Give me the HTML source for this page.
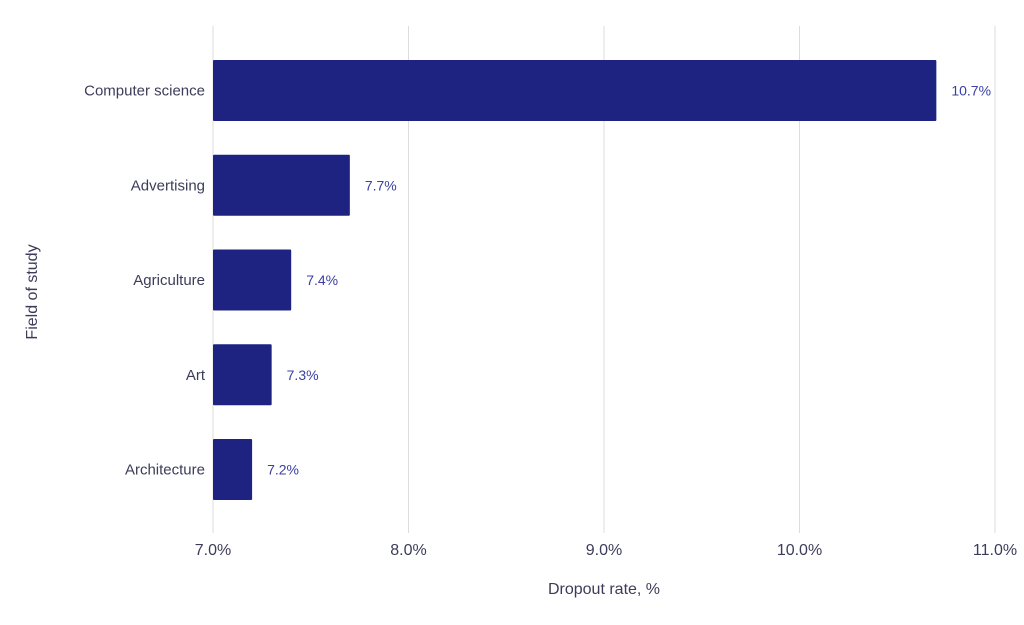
<!DOCTYPE html>
<html><head><meta charset="utf-8"><style>
body{margin:0;background:#fff;font-family:"Liberation Sans",sans-serif}
svg text{font-family:"Liberation Sans",sans-serif}
</style></head><body>
<svg id="chart" width="1024" height="620">
<g id="grid"></g><g id="bars"></g><g id="labels"></g>
<text x="604" y="594" text-anchor="middle" font-size="16" fill="#3c3c5a">Dropout rate, %</text>
<text transform="translate(37,292) rotate(-90)" text-anchor="middle" font-size="16" fill="#3c3c5a">Field of study</text>
</svg>
<script>
const categories=["Computer science","Advertising","Agriculture","Art","Architecture"];
const values=[10.7,7.7,7.4,7.3,7.2];
const valueLabels=["10.7%","7.7%","7.4%","7.3%","7.2%"];
const ticks=[7,8,9,10,11];
const tickLabels=["7.0%","8.0%","9.0%","10.0%","11.0%"];
const NS="http://www.w3.org/2000/svg";
const x=v=>213+(v-7)*195.5;
const yc=i=>90.5+i*94.75;
function mk(t,a,p){const e=document.createElementNS(NS,t);for(const k in a)e.setAttribute(k,a[k]);p.appendChild(e);return e;}
const g=document.getElementById('grid'),b=document.getElementById('bars'),l=document.getElementById('labels');
ticks.forEach((t,i)=>{
 const ln=mk('line',{x1:x(t),x2:x(t),y1:26,y2:533,stroke:'#dcdcdc','stroke-width':1},g);
 
 
 const tx=mk('text',{x:x(t),y:555,'text-anchor':'middle','font-size':16,fill:'#3c3c5a'},l);
 tx.textContent=tickLabels[i];
 
 
});
categories.forEach((c,i)=>{
 const r=mk('rect',{x:x(7),y:yc(i)-30.5,width:x(values[i])-x(7),height:61,fill:'#1e2382',rx:1},b);
 
 
 const ct=mk('text',{x:205,y:yc(i)+5,'text-anchor':'end','font-size':15,fill:'#3c3c5a'},l);
 ct.textContent=c;
 
 
 const vt=mk('text',{x:x(values[i])+15,y:yc(i)+5,'font-size':14,fill:'#3a3fa0'},l);
 vt.textContent=valueLabels[i];
 
 
});
</script>
</body></html>
